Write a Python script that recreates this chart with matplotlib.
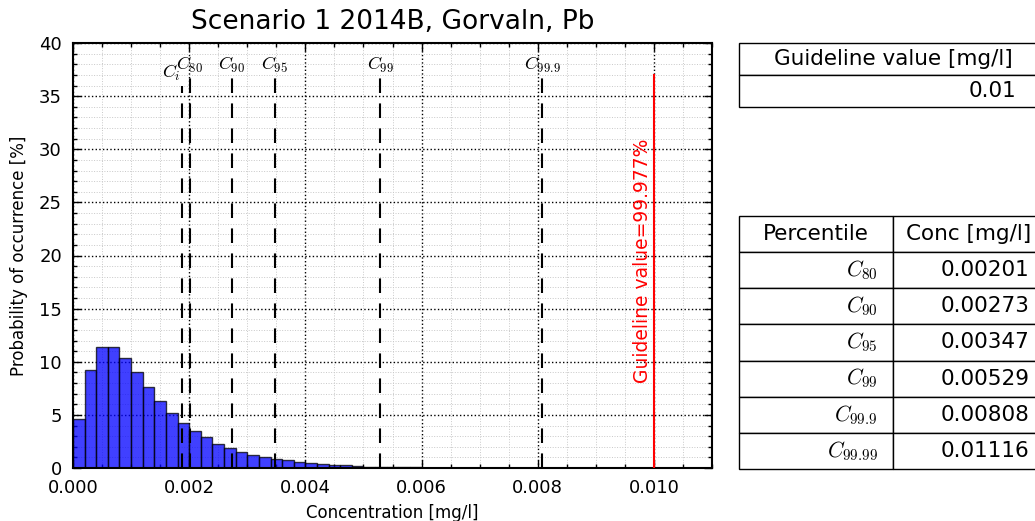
import numpy as np
import matplotlib
matplotlib.use("Agg")
import matplotlib.pyplot as plt
from matplotlib.ticker import MultipleLocator, FormatStrFormatter

plt.rcParams["mathtext.fontset"] = "cm"
plt.rcParams["font.family"] = "DejaVu Sans"

# ---------- Data ----------
bin_width = 0.0002
probs = [4.6, 9.2, 11.4, 11.4, 10.4, 9.0, 7.6, 6.3, 5.2, 4.25,
         3.5, 2.9, 2.3, 1.85, 1.5, 1.25, 1.0, 0.85, 0.72, 0.6,
         0.48, 0.4, 0.31, 0.25, 0.19, 0.14, 0.1, 0.08, 0.06, 0.05,
         0.04, 0.03, 0.02]

c_i = 0.00188
perc_names = ["80", "90", "95", "99", "99.9", "99.99"]
perc_values = [0.00201, 0.00273, 0.00347, 0.00529, 0.00808, 0.01116]
guideline = 0.01
guideline_pct = 99.977

title = "Scenario 1 2014B, Gorvaln, Pb"

# ---------- Figure ----------
fig = plt.figure(figsize=(10.35, 5.21), dpi=100)
ax = fig.add_axes([73/1035, 1 - 468/521, (712 - 73)/1035, (468 - 43)/521])

left_edges = np.arange(len(probs)) * bin_width
ax.bar(left_edges, probs, width=bin_width, align="edge",
       color="blue", alpha=0.75, edgecolor="black", linewidth=1.0, zorder=2)

DASH = (7, 5)

# C_i line and label
ax.plot([c_i, c_i], [0, 36], color="black", ls="--", dashes=DASH, lw=1.5, zorder=3)
ax.text(c_i - 0.00003, 36.2, r"$C_i$", ha="right", va="bottom", fontsize=13)

# percentile lines (only those inside the axis)
for name, val in zip(perc_names, perc_values):
    if val < 0.011:
        ax.plot([val, val], [0, 37], color="black", ls="--", dashes=DASH, lw=1.5, zorder=3)
        ax.text(val, 37.0, r"$C_{%s}$" % name, ha="center", va="bottom", fontsize=13)

# guideline
ax.plot([guideline, guideline], [0, 37], color="red", lw=1.5, zorder=3)
ax.text(guideline - 0.00004, 19.5, "Guideline value=%.3f%%" % guideline_pct,
        color="red", rotation=90, ha="right", va="center", fontsize=13.5)

ax.set_xlim(0, 0.011)
ax.set_ylim(0, 40)
ax.xaxis.set_major_locator(MultipleLocator(0.002))
ax.xaxis.set_minor_locator(MultipleLocator(0.0005))
ax.xaxis.set_major_formatter(FormatStrFormatter("%.3f"))
ax.yaxis.set_major_locator(MultipleLocator(5))
ax.yaxis.set_minor_locator(MultipleLocator(1))
ax.tick_params(which="both", direction="in", top=True, right=True, labelsize=13, pad=8)
ax.tick_params(which="major", length=6, width=1)
ax.tick_params(which="minor", length=3, width=1)
ax.grid(which="major", color="black", linestyle=":", linewidth=1.0, zorder=0)
ax.grid(which="minor", color="#c8c8c8", linestyle=":", linewidth=0.7, zorder=0)
ax.set_axisbelow(True)
for sp in ax.spines.values():
    sp.set_linewidth(1.5)

ax.set_title(title, fontsize=19, pad=10)
ax.set_xlabel("Concentration [mg/l]", fontsize=12, labelpad=5)
ax.set_ylabel("Probability of occurrence [%]", fontsize=12, labelpad=8)

# ---------- Tables ----------
tax1 = fig.add_axes([739/1035, 1 - 107/521, 308/1035, 64/521])
tax1.axis("off")
t1 = tax1.table(cellText=[["Guideline value [mg/l]"], ["%g" % guideline]],
                cellLoc="right", bbox=[0, 0, 1, 1])
t1.auto_set_font_size(False)
t1.set_fontsize(15.5)
t1[0, 0].get_text().set_ha("center")
t1[0, 0]._loc = "center"

rows = [["Percentile", "Conc [mg/l]"]]
for name, val in zip(perc_names, perc_values):
    rows.append([r"$C_{%s}$" % name, "%.5f" % val])

tax2 = fig.add_axes([739/1035, 1 - 469/521, 306/1035, 253/521])
tax2.axis("off")
t2 = tax2.table(cellText=rows, cellLoc="right", colWidths=[154, 152],
                bbox=[0, 0, 1, 1])
t2.auto_set_font_size(False)
t2.set_fontsize(15.5)
for j in range(2):
    t2[0, j]._loc = "center"
    t2[0, j].get_text().set_ha("center")

fig.savefig("out.png", dpi=100)
